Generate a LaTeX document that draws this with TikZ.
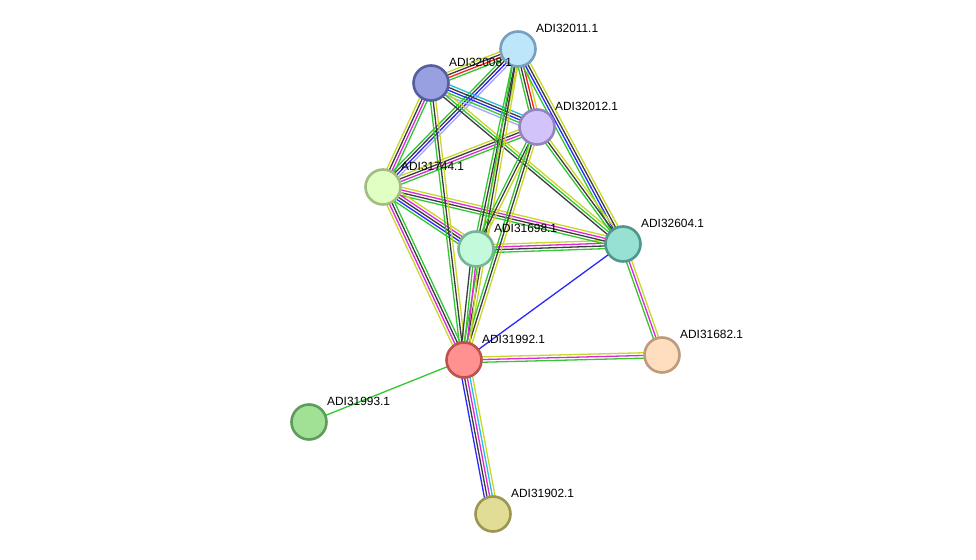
\documentclass[tikz,border=0pt]{standalone}
\usepackage{fontspec}
\setmainfont{Liberation Sans}
\usetikzlibrary{calc,backgrounds}

\definecolor{sgreen}{RGB}{50,200,50}
\definecolor{sred}{RGB}{255,30,30}
\definecolor{sblue}{RGB}{40,40,255}
\definecolor{sblack}{RGB}{60,60,60}
\definecolor{smag}{RGB}{220,40,220}
\definecolor{scyan}{RGB}{40,190,225}
\definecolor{syel}{RGB}{200,215,40}
\definecolor{slav}{RGB}{165,165,255}

% one evidence line per colour, side by side
\newcommand{\stredge}[3]{%
  \foreach \c [count=\n] in {#3} {\xdef\nlines{\n}}
  \foreach \c [count=\i] in {#3} {
    \pgfmathsetmacro{\off}{(\i-(\nlines+1)/2)*2.7}
    \draw[link, \c] ($(#1)!\off bp!90:(#2)$) -- ($(#2)!\off bp!-90:(#1)$);
  }
}

\begin{document}
\begin{tikzpicture}[
  x=1bp, y=-1bp,
  font=\fontsize{11.9bp}{14bp}\selectfont,
  prot/.style={circle, line width=2.6bp, minimum size=35bp, inner sep=0pt},
  lab/.style={anchor=west, inner sep=0pt, text=black},
  link/.style={line width=1.3bp}
]
\useasboundingbox (0,0) rectangle (976,560);

\node[prot, fill={rgb,255:red,190;green,230;blue,250}, draw={rgb,255:red,120;green,160;blue,190}] (n32011) at (518,49) {};
\node[prot, fill={rgb,255:red,152;green,160;blue,225}, draw={rgb,255:red,85;green,95;blue,160}] (n32008) at (431,83) {};
\node[prot, fill={rgb,255:red,210;green,195;blue,250}, draw={rgb,255:red,150;green,130;blue,190}] (n32012) at (537,127) {};
\node[prot, fill={rgb,255:red,225;green,255;blue,195}, draw={rgb,255:red,160;green,190;blue,130}] (n31744) at (383,187) {};
\node[prot, fill={rgb,255:red,195;green,250;blue,220}, draw={rgb,255:red,120;green,180;blue,150}] (n31698) at (476,249) {};
\node[prot, fill={rgb,255:red,150;green,225;blue,210}, draw={rgb,255:red,80;green,150;blue,140}] (n32604) at (623,244) {};
\node[prot, fill={rgb,255:red,255;green,145;blue,145}, draw={rgb,255:red,190;green,80;blue,80}] (n31992) at (464,360) {};
\node[prot, fill={rgb,255:red,255;green,222;blue,192}, draw={rgb,255:red,190;green,155;blue,125}] (n31682) at (662,355) {};
\node[prot, fill={rgb,255:red,160;green,225;blue,150}, draw={rgb,255:red,95;green,155;blue,90}] (n31993) at (309,422) {};
\node[prot, fill={rgb,255:red,225;green,220;blue,150}, draw={rgb,255:red,155;green,150;blue,80}] (n31902) at (493,514) {};

\node[lab] (t32011) at ($(n32011)+(18,-21)$) {ADI32011.1};
\node[lab] (t32008) at ($(n32008)+(18,-21)$) {ADI32008.1};
\node[lab] (t32012) at ($(n32012)+(18,-21)$) {ADI32012.1};
\node[lab] (t31744) at ($(n31744)+(18,-21)$) {ADI31744.1};
\node[lab] (t31698) at ($(n31698)+(18,-21)$) {ADI31698.1};
\node[lab] (t32604) at ($(n32604)+(18,-21)$) {ADI32604.1};
\node[lab] (t31992) at ($(n31992)+(18,-21)$) {ADI31992.1};
\node[lab] (t31682) at ($(n31682)+(18,-21)$) {ADI31682.1};
\node[lab] (t31993) at ($(n31993)+(18,-21)$) {ADI31993.1};
\node[lab] (t31902) at ($(n31902)+(18,-21)$) {ADI31902.1};

\begin{scope}[on background layer]
\stredge{n31992}{n31902}{sblue,sblack,smag,scyan,syel}
\stredge{n31992}{n31993}{sgreen}
\stredge{n31992}{n31682}{sgreen,smag,syel}
\stredge{n31992}{n32604}{sblue}
\stredge{n32604}{n31682}{sgreen,smag,syel}
\stredge{n31698}{n32604}{sgreen,sblack,smag,syel}
\stredge{n31744}{n32604}{sgreen,sblack,smag,syel}
\stredge{n31744}{n31698}{sgreen,sblue,sblack,smag,syel}
\stredge{n31744}{n31992}{syel,smag,sblack,sgreen}
\stredge{n31744}{n32012}{sgreen,smag,sblack,syel}
\stredge{n31744}{n32008}{sgreen,smag,sblack,syel}
\stredge{n31744}{n32011}{slav,sblue,sblack,sgreen}
\stredge{n32008}{n32011}{sgreen,sred,sblack,syel}
\stredge{n32008}{n32012}{slav,sgreen,sblue,sblack,scyan}
\stredge{n32008}{n32604}{sblack,sgreen,syel}
\stredge{n32008}{n31992}{sgreen,sblack,syel}
\stredge{n32011}{n32012}{sgreen,sblack,sred,syel}
\stredge{n32011}{n32604}{sgreen,sblue,sblack,syel}
\stredge{n32011}{n31698}{sgreen,sblack,syel}
\stredge{n32011}{n31992}{sgreen,sblack,syel}
\stredge{n32012}{n31698}{sgreen,sblack,syel}
\stredge{n32012}{n31992}{sgreen,sblack,syel}
\stredge{n32012}{n32604}{sgreen,sblack,syel}
\stredge{n31698}{n31992}{sblack,sgreen,smag,syel}
\end{scope}
\end{tikzpicture}
\end{document}
